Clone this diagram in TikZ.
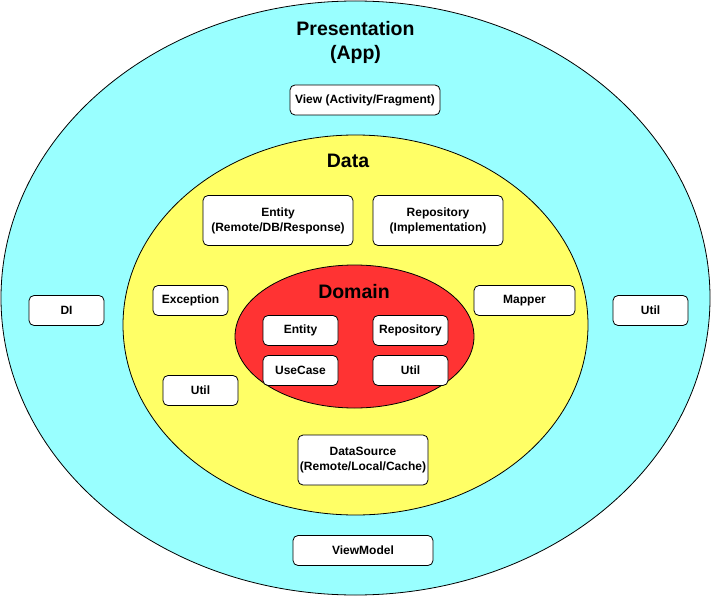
\documentclass[tikz,border=0pt]{standalone}
\usepackage{fontspec}
\setmainfont{Liberation Sans}
\usetikzlibrary{shapes.geometric}
\tikzset{
  layer/.style={ellipse, draw=black, line width=0.8pt, inner sep=0pt},
  box/.style={draw=black, fill=white, rounded corners=5pt, line width=0.8pt, inner sep=0pt,
    align=center, font=\fontsize{12}{15}\selectfont\bfseries},
  title/.style={inner sep=0pt, align=center, font=\fontsize{19.5}{24}\selectfont\bfseries}
}
\definecolor{cyanL}{RGB}{153,255,255}
\definecolor{yellowL}{RGB}{255,255,102}
\definecolor{redL}{RGB}{255,51,51}
\begin{document}
\begin{tikzpicture}[x=1pt,y=-1pt]
\useasboundingbox (0,0) rectangle (711,596);
\node[layer, fill=cyanL, minimum width=709pt, minimum height=594pt] (pres) at (355.5,298) {};
\node[layer, fill=yellowL, minimum width=465pt, minimum height=380pt] (data) at (355.5,325) {};
\node[layer, fill=redL, minimum width=239pt, minimum height=143pt] (dom) at (354.5,336.5) {};
\node[title] (tpres) at (355.5,42.5) {Presentation\\(App)};
\node[title] (tdata) at (348,161) {Data};
\node[title] (tdom) at (354,291.5) {Domain};
% presentation boxes
\node[box, minimum width=150pt, minimum height=30pt] (view) at (365,100) {View (Activity/Fragment)};
\node[box, minimum width=75pt, minimum height=30pt] (di) at (66.5,310.5) {DI};
\node[box, minimum width=75pt, minimum height=30pt] (putil) at (650.5,310.5) {Util};
\node[box, minimum width=140pt, minimum height=30pt] (vm) at (363,550.5) {ViewModel};
% data boxes
\node[box, minimum width=150pt, minimum height=50pt] (dent) at (278,220.5) {Entity\\(Remote/DB/Response)};
\node[box, minimum width=130pt, minimum height=50pt] (drepo) at (438,220.5) {Repository\\(Implementation)};
\node[box, minimum width=75pt, minimum height=30pt] (exc) at (190.5,300.5) {Exception};
\node[box, minimum width=101pt, minimum height=30pt] (map) at (524.5,300.5) {Mapper};
\node[box, minimum width=75pt, minimum height=30pt] (dutil) at (200.5,390.5) {Util};
\node[box, minimum width=130pt, minimum height=50pt] (dsrc) at (363,460) {DataSource\\(Remote/Local/Cache)};
% domain boxes
\node[box, minimum width=75pt, minimum height=30pt] (ment) at (300.5,330.5) {Entity};
\node[box, minimum width=75pt, minimum height=30pt] (mrepo) at (410.5,330.5) {Repository};
\node[box, minimum width=75pt, minimum height=30pt] (muse) at (300.5,370.5) {UseCase};
\node[box, minimum width=75pt, minimum height=30pt] (mutil) at (410.5,370.5) {Util};
\end{tikzpicture}
\end{document}
